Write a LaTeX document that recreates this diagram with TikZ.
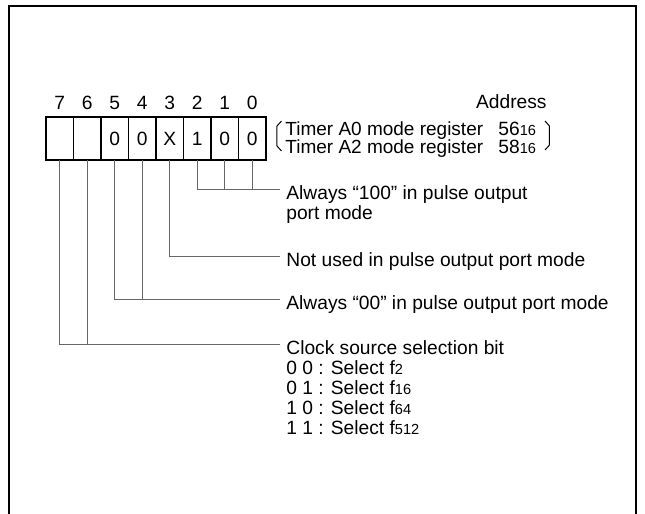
\documentclass[tikz,border=0pt]{standalone}
\usepackage{fontspec}
\setmainfont{Liberation Sans}
\usetikzlibrary{positioning,calc}
\newcommand{\lowidx}[1]{{\fontsize{7.3pt}{7pt}\selectfont #1}}
\newcommand{\capstrut}{\rule{0pt}{7pt}}

\begin{document}
\begin{tikzpicture}[
  x=0.5pt, y=-0.5pt,
  font=\fontsize{9.6pt}{10pt}\selectfont,
  cell/.style={draw, line width=0.65pt, minimum width=13.75pt, minimum height=21.5pt, inner sep=0pt, outer sep=0pt},
  bitno/.style={anchor=base, inner sep=0pt},
  lbl/.style={anchor=north west, align=left, inner sep=0pt},
  wire/.style={draw=black!60, line width=0.5pt},
  frame/.style={line width=1.25pt},
]
\useasboundingbox (0,0) rectangle (645,514);
% Outer frame, open at the bottom
\draw[frame] (9,514) -- (9,6) -- (636,6) -- (636,514);
% Register bits
\foreach \b/\v [count=\i from 0] in {7/,6/,5/0,4/0,3/X,2/1,1/0,0/0} {
  \node[cell] (c\b) at (59.75+27.5*\i,138.5) {\v};
  \node[bitno] (n\b) at ([yshift=3.75pt]c\b.north) {\b};
}
\draw[line width=1pt] (c7.north west) rectangle (c0.south east);
% Register names and addresses
\node[bitno, anchor=base east] (addr) at (547,108.5) {Address};
\node[lbl, font=\fontsize{9.5pt}{9pt}\selectfont] (regs) at (285,121.5) {\capstrut Timer A0 mode register\\Timer A2 mode register};
\node[lbl, font=\fontsize{9.6pt}{9pt}\selectfont] (vals) at (498,121.5) {\capstrut 56\lowidx{16}\\58\lowidx{16}};
\draw[line width=0.5pt] (281.5,121) -- (277,126) -- (277,146) -- (281.5,151);
\draw[line width=0.5pt] (545,121) -- (549.5,126) -- (549.5,145) -- (545,150);
% Bit field descriptions
\node[lbl] (l100) at (286,185) {\capstrut Always “100” in pulse output\\port mode};
\node[lbl] (lnot) at (286,252) {\capstrut Not used in pulse output port mode};
\node[lbl] (l00) at (286,295) {\capstrut Always “00” in pulse output port mode};
\node[lbl] (lclk) at (286,340) {\capstrut Clock source selection bit\\0 0 : Select f\lowidx{2}\\0 1 : Select f\lowidx{16}\\1 0 : Select f\lowidx{64}\\1 1 : Select f\lowidx{512}};
\foreach \l in {l100,lnot,l00,lclk} {\coordinate (k\l) at ($(\l.north west)+(-6,5)$);}
% Connectors
\draw[wire] (c2.south) |- (kl100);
\draw[wire] (c1.south) -- (c1.south |- kl100);
\draw[wire] (c0.south) -- (c0.south |- kl100);
\draw[wire] (c3.south) |- (klnot);
\draw[wire] (c5.south) |- (kl00);
\draw[wire] (c4.south) -- (c4.south |- kl00);
\draw[wire] (c7.south) |- (klclk);
\draw[wire] (c6.south) -- (c6.south |- klclk);
\end{tikzpicture}
\end{document}
